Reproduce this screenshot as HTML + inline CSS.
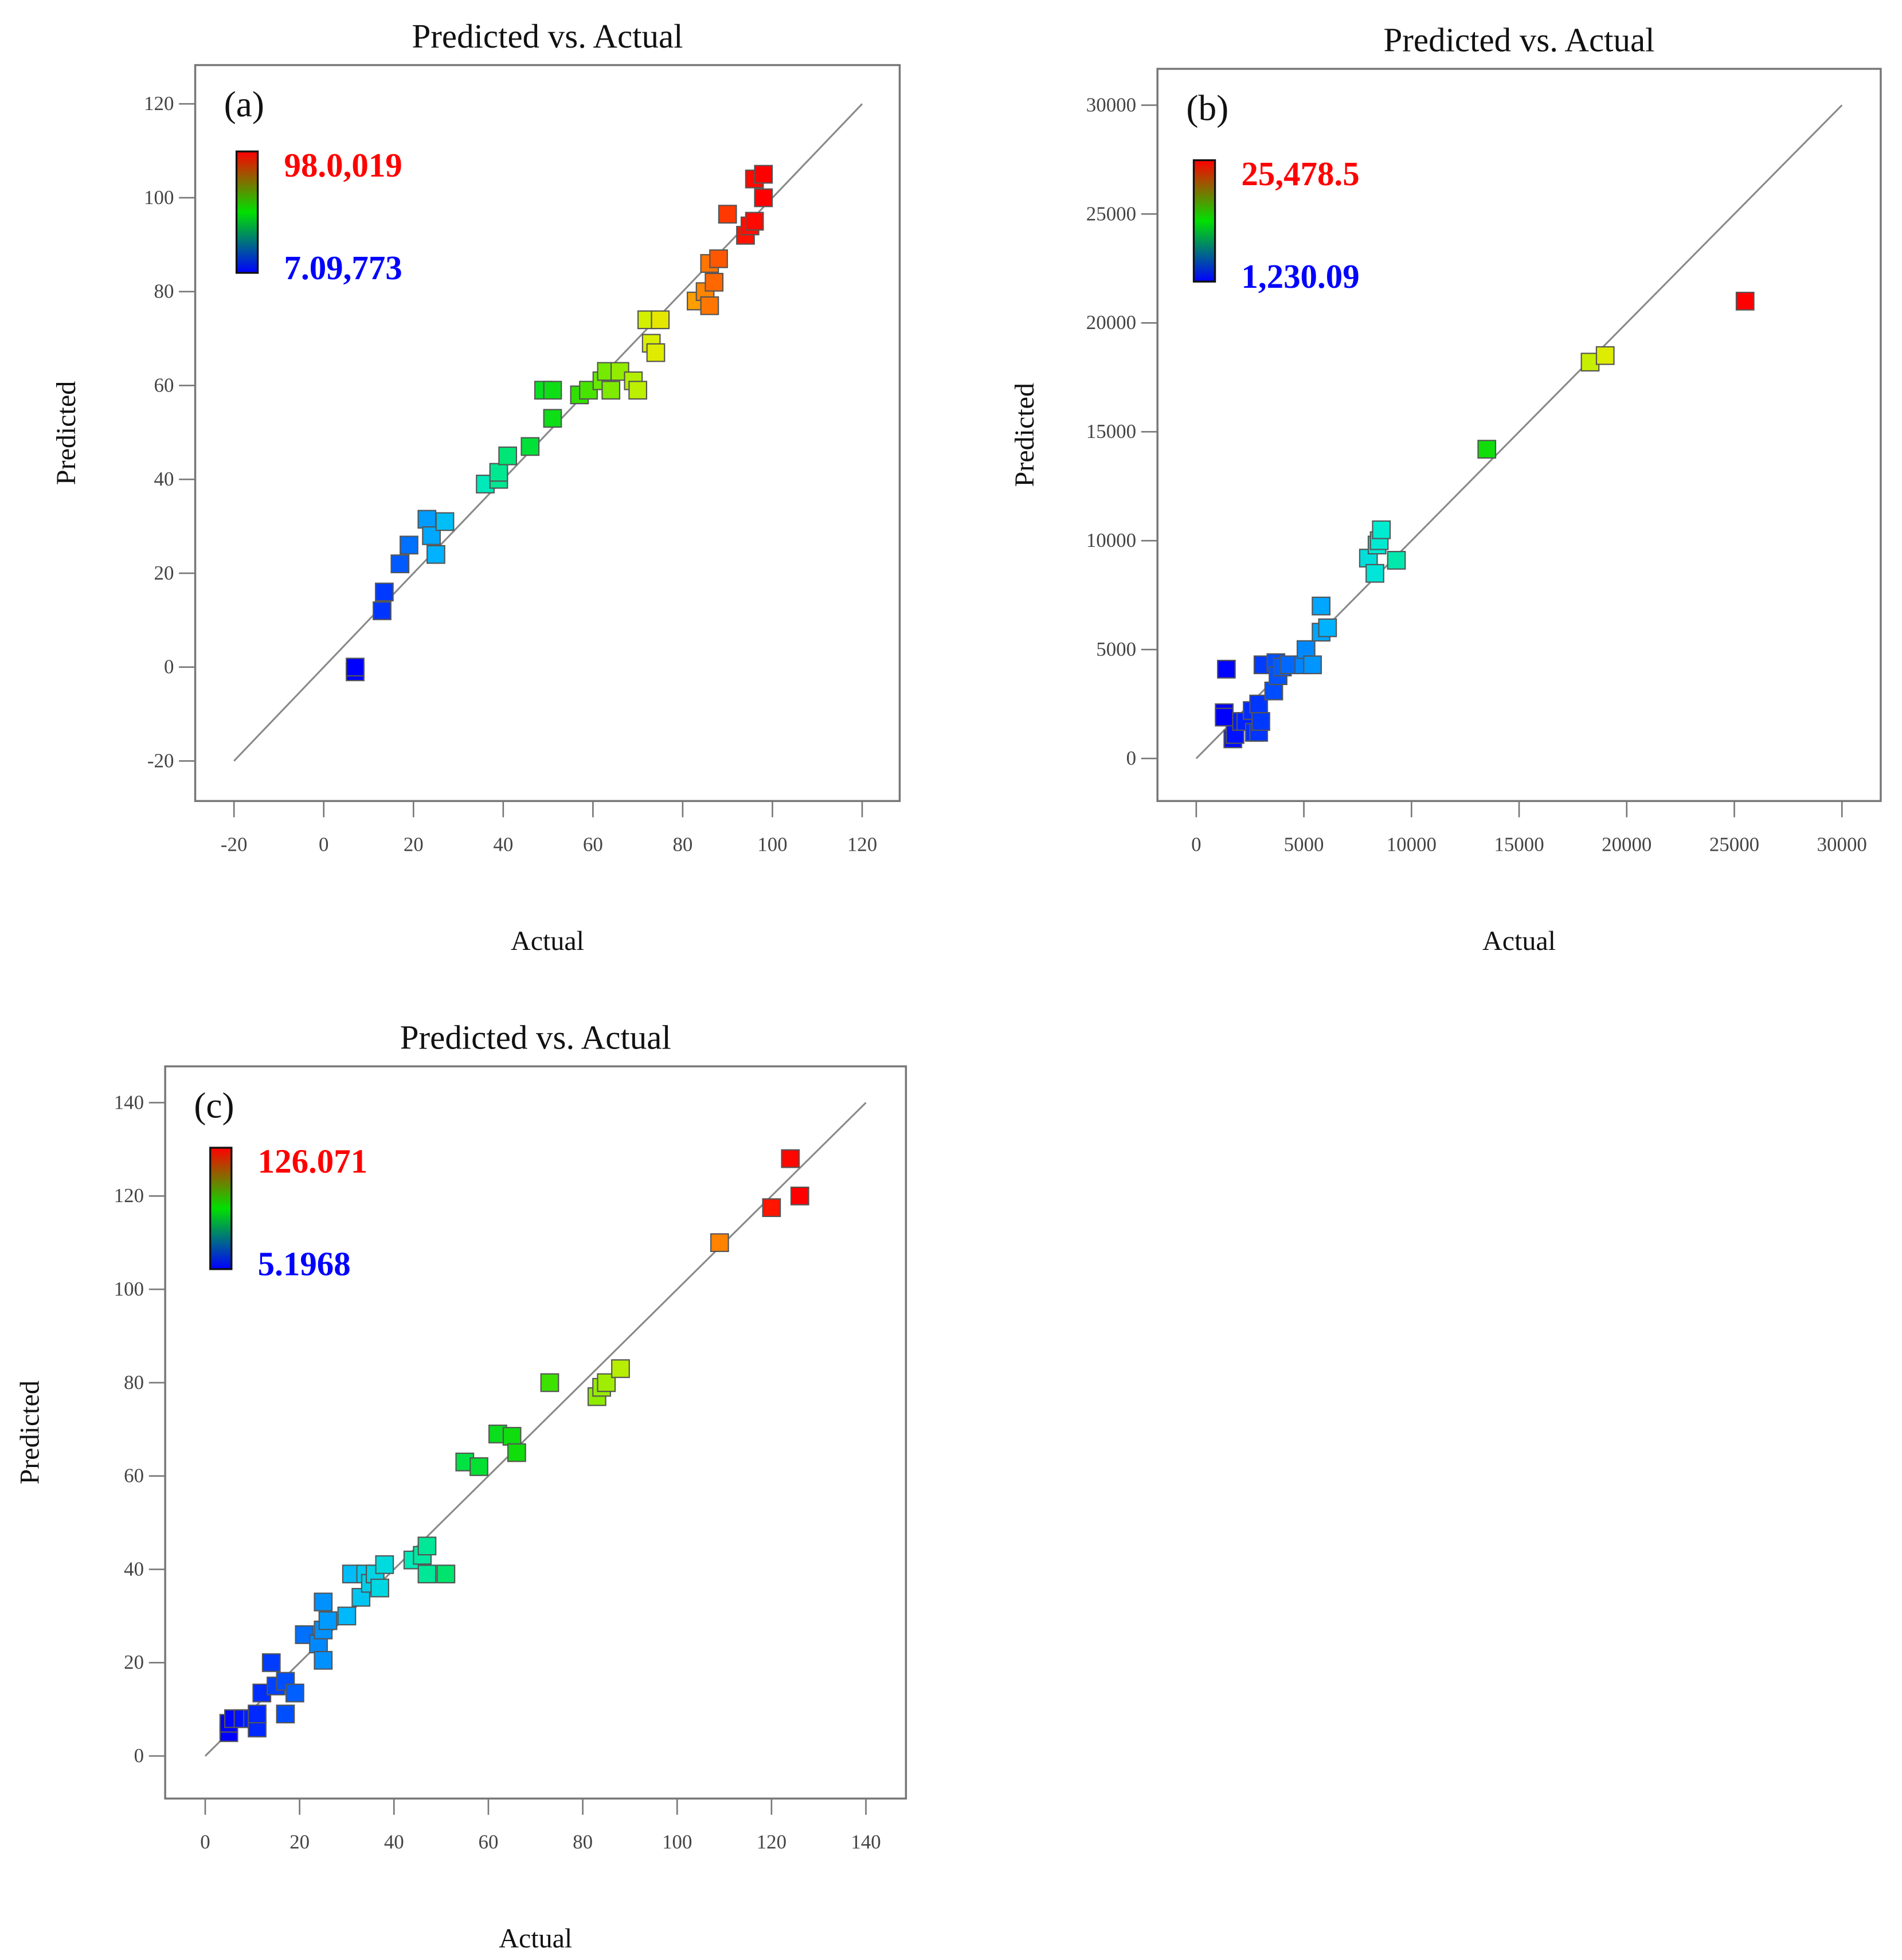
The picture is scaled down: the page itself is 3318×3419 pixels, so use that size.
<!DOCTYPE html>
<html><head><meta charset="utf-8"><style>
html,body{margin:0;padding:0;background:#fff}
svg{display:block}
text{font-family:"Liberation Serif",serif}
</style></head><body>
<svg id="chart" width="3318" height="3419" viewBox="0 0 1520 1566" preserveAspectRatio="none" xmlns="http://www.w3.org/2000/svg">
<defs>
<linearGradient id="cbar" x1="0" y1="1" x2="0" y2="0">
<stop offset="0" stop-color="#0000ff"/><stop offset="0.5" stop-color="#00e000"/><stop offset="1" stop-color="#ff0000"/>
</linearGradient>
</defs>
</svg>
<script>
// Panel (a)
const aActual=[7,7,13,13.5,17,19,23,24,25,27,36,39,39,41,46,49,51,51,57,59,62,63,64,66,69,70,72,73,74,75,83,85,86,86,87,88,90,94,95,96,96,98,98];
const aPred=[-1,0,12,16,22,26,31.5,28,24,31,39,40,41.5,45,47,59,59,53,58,59,61,63,59,63,61,59,74,69,67,74,78,80,77,86,82,87,96.5,92,94,104,95,105,100];
const aTicks=[-20,0,20,40,60,80,100,120];
// Panel (b)
const bActual=[1300,1300,1400,1700,1800,2100,2300,2600,2700,2900,2900,3000,3100,3600,3700,3800,4000,4300,5000,5100,5400,5800,5800,6100,8000,8300,8400,8500,8600,9300,13500,18300,19000,25500];
const bPred=[2100,1900,4100,900,1100,1700,1700,2200,1200,1200,2500,1700,4300,3100,4400,3800,4200,4300,4300,5000,4300,5800,7000,6000,9200,8500,9800,10000,10500,9100,14200,18200,18500,21000];
const bTicks=[0,5000,10000,15000,20000,25000,30000];
// Panel (c)
const cActual=[5,5,6,8,10,11,11,12,14,15,17,17,19,21,24,25,25,25,26,30,31,33,34,35,36,37,38,44,46,47,47,51,55,58,62,65,66,73,83,84,85,88,109,120,124,126];
const cPred=[5,7,8,8,8,6,9,13.5,20,15,16,9,13.5,26,24,27,33,20.5,29,30,39,34,39,37,39,36,41,42,43,45,39,39,63,62,69,68.5,65,80,77,79,80,83,110,117.5,128,120];
const cTicks=[0,20,40,60,80,100,120,140];

const NS="http://www.w3.org/2000/svg";
const svg=document.getElementById('chart');
function mk(tag,attrs,parent,txt){const e=document.createElementNS(NS,tag);for(const k in attrs)e.setAttribute(k,attrs[k]);if(txt!==undefined)e.textContent=txt;(parent||svg).appendChild(e);return e;}
function ramp(t){
  t=Math.max(0,Math.min(1,t));
  const stops=[[0,0,0,255],[0.1,0,80,255],[0.2,0,180,255],[0.3,0,235,210],[0.42,0,225,60],[0.52,20,220,0],[0.62,120,235,0],[0.72,215,240,0],[0.78,245,220,0],[0.86,255,130,0],[0.93,255,30,0],[1,255,0,0]];
  for(let i=1;i<stops.length;i++){if(t<=stops[i][0]){const a=stops[i-1],b=stops[i];const f=(t-a[0])/(b[0]-a[0]);return `rgb(${Math.round(a[1]+(b[1]-a[1])*f)},${Math.round(a[2]+(b[2]-a[2])*f)},${Math.round(a[3]+(b[3]-a[3])*f)})`;}}
  return 'red';
}
function panel(cfg){
  const g=mk('g',{});
  
  
  const sx=v=>cfg.x0+(v-cfg.t0)*(cfg.x1-cfg.x0)/(cfg.t1-cfg.t0);
  const sy=v=>cfg.y0-(v-cfg.t0)*(cfg.y0-cfg.y1)/(cfg.t1-cfg.t0);
  const t=mk('text',{x:(cfg.L+cfg.R)/2,y:cfg.T-14,'text-anchor':'middle','font-size':27,fill:'#111'},g,'Predicted vs. Actual');
  
  
  const fr=mk('rect',{x:cfg.L,y:cfg.T,width:cfg.R-cfg.L,height:cfg.B-cfg.T,fill:'none',stroke:'#777','stroke-width':1.6},g);
  
  
  cfg.ticks.forEach(v=>{
    mk('line',{x1:cfg.L-13,x2:cfg.L,y1:sy(v),y2:sy(v),stroke:'#777','stroke-width':1.2},g);
    const yl=mk('text',{x:cfg.L-17,y:sy(v)+5,'text-anchor':'end','font-size':16,fill:'#444'},g,String(v));
    
    
    mk('line',{x1:sx(v),x2:sx(v),y1:cfg.B,y2:cfg.B+13,stroke:'#777','stroke-width':1.2},g);
    const xl=mk('text',{x:sx(v),y:cfg.B+40,'text-anchor':'middle','font-size':16,fill:'#444'},g,String(v));
    
    
  });
  const xt=mk('text',{x:(cfg.L+cfg.R)/2,y:cfg.B+119,'text-anchor':'middle','font-size':22,fill:'#111'},g,'Actual');
  
  
  const yt=mk('text',{x:0,y:0,'text-anchor':'middle','font-size':22,fill:'#111',transform:`translate(${cfg.ytx},${(cfg.T+cfg.B)/2}) rotate(-90)`},g,'Predicted');
  
  
  const dl=mk('line',{x1:sx(cfg.t0),y1:sy(cfg.t0),x2:sx(cfg.t1),y2:sy(cfg.t1),stroke:'#888','stroke-width':1.4},g);
  
  
  const lbl=mk('text',{x:cfg.L+23,y:cfg.T+41,'font-size':29,fill:'#111'},g,cfg.letter);
  
  
  const cb=mk('rect',{x:cfg.cbx,y:cfg.cby,width:17,height:97,fill:'url(#cbar)',stroke:'#111','stroke-width':1.5},g);
  
  
  const hi=mk('text',{x:cfg.cbx+38,y:cfg.cby+20,'font-size':27,'font-weight':'bold',fill:'#ff0000'},g,cfg.hi);
  
  
  const lo=mk('text',{x:cfg.cbx+38,y:cfg.cby+102,'font-size':27,'font-weight':'bold',fill:'#0000ff'},g,cfg.lo);
  
  
  const mn=Math.min(...cfg.ax),mxv=Math.max(...cfg.ax);
  cfg.ax.forEach((a,i)=>{
    const p=cfg.py[i];
    const r=mk('rect',{x:sx(a)-7,y:sy(p)-7,width:14,height:14,fill:ramp((a-mn)/(mxv-mn)),stroke:'#555','stroke-width':1},g);
    
    
  });
}
panel({name:'panel-a',L:156,T:52,R:719,B:640,x0:187,x1:689,y0:608,y1:83,t0:-20,t1:120,ticks:aTicks,ax:aActual,py:aPred,ytx:60,letter:'(a)',cbx:189,cby:121,hi:'98.0,019',lo:'7.09,773'});
panel({name:'panel-b',L:925,T:55,R:1503,B:640,x0:956,x1:1472,y0:606,y1:84,t0:0,t1:30000,ticks:bTicks,ax:bActual,py:bPred,ytx:826,letter:'(b)',cbx:954,cby:128,hi:'25,478.5',lo:'1,230.09'});
panel({name:'panel-c',L:132,T:852,R:724,B:1437,x0:164,x1:692,y0:1403,y1:881,t0:0,t1:140,ticks:cTicks,ax:cActual,py:cPred,ytx:31,letter:'(c)',cbx:168,cby:917,hi:'126.071',lo:'5.1968'});
</script>
</body></html>
